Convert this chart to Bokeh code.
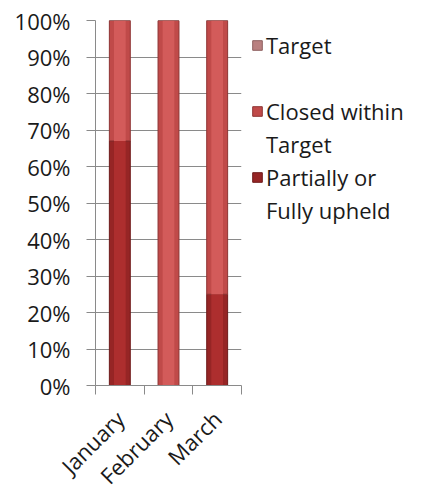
import math
from bokeh.plotting import figure
from bokeh.models import (Range1d, FixedTicker, NumeralTickFormatter, Legend, LegendItem,
                          ColumnDataSource)
from bokeh.embed import file_html
from bokeh.resources import INLINE

months = ["January", "February", "March"]
upheld = [67, 0, 25]          # Partially or Fully upheld (%)
closed = [33, 100, 75]        # Closed within Target (%)
target = [0, 0, 0]            # Target (%)
y_ticks = [0, 10, 20, 30, 40, 50, 60, 70, 80, 90, 100]

FONT = "Open Sans"
FS = "22px"
GRAY = "#8a8a8a"
TXT = "#1a1a1a"

xs = [i + 0.5 for i in range(len(months))]
src = ColumnDataSource(dict(
    x=xs,
    upheld=[v / 100 for v in upheld],
    closed=[v / 100 for v in closed],
    target=[v / 100 for v in target],
))

p = figure(frame_width=146, frame_height=365, output_backend="svg", toolbar_location=None,
           x_range=Range1d(0, len(months)), y_range=Range1d(0, 1),
           min_border_left=95, min_border_right=186, min_border_top=20, min_border_bottom=102)
p.outline_line_color = None
p.background_fill_color = "white"
p.border_fill_color = "white"

# grid
p.xgrid.grid_line_color = None
p.ygrid.grid_line_color = GRAY
p.ygrid.ticker = FixedTicker(ticks=[v / 100 for v in y_ticks])

base_colors = ["#962525", "#c04a49", "#b98080"]
line_colors = ["#6e1a1a", "#8e3433", "#8e5f5f"]
inner_colors = ["#ad2e2e", "#d35b5a", "#d09a9a"]
rs = p.vbar_stack(["upheld", "closed", "target"], x="x", width=0.43, source=src,
                  fill_color=base_colors, line_color=line_colors, line_width=1)
p.vbar_stack(["upheld", "closed", "target"], x="x", width=0.24, source=src,
             fill_color=inner_colors, line_color=None)

# y axis
ya = p.yaxis[0]
ya.ticker = FixedTicker(ticks=[v / 100 for v in y_ticks], minor_ticks=[])
ya.formatter = NumeralTickFormatter(format="0%")
ya.axis_line_color = GRAY
ya.major_tick_line_color = GRAY
ya.major_tick_out = 9
ya.major_tick_in = 0
ya.minor_tick_line_color = None
ya.major_label_text_font = FONT
ya.major_label_text_font_size = FS
ya.major_label_text_color = TXT
ya.major_label_standoff = 16

# x axis: labels at centres, ticks between categories
xa = p.xaxis[0]
xa.ticker = FixedTicker(ticks=xs, minor_ticks=list(range(len(months) + 1)))
xa.major_label_overrides = {x: m for x, m in zip(xs, months)}
xa.axis_line_color = GRAY
xa.major_tick_line_color = None
xa.minor_tick_line_color = GRAY
xa.minor_tick_out = 9
xa.minor_tick_in = 0
xa.major_label_orientation = math.pi / 4
xa.major_label_text_font = FONT
xa.major_label_text_font_size = FS
xa.major_label_text_color = TXT
xa.major_label_standoff = 20

# invisible renderer used for legend rows without a swatch
spacer = p.scatter(x=[], y=[], fill_alpha=0, line_alpha=0)

lg = Legend(items=[LegendItem(label="Target", renderers=[rs[2]]),
                   LegendItem(label="\u00a0", renderers=[spacer]),
                   LegendItem(label="Closed within", renderers=[rs[1]]),
                   LegendItem(label="Target", renderers=[spacer]),
                   LegendItem(label="Partially or", renderers=[rs[0]]),
                   LegendItem(label="Fully upheld", renderers=[spacer])],
            location="top_left", orientation="vertical",
            label_text_font=FONT, label_text_font_size=FS, label_text_color=TXT,
            glyph_width=12, glyph_height=12, label_standoff=3, spacing=3,
            padding=0, margin=10, border_line_color=None, background_fill_alpha=0)
p.add_layout(lg, "right")

open("out.html", "w").write(file_html(p, INLINE))
